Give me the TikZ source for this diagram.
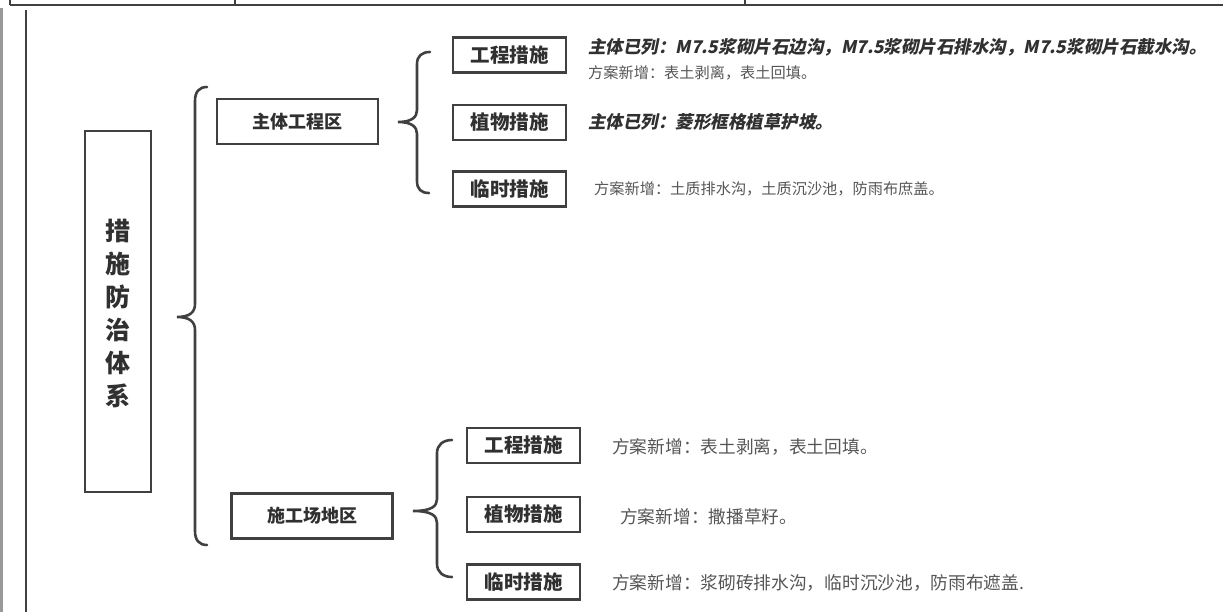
\documentclass[tikz,border=0pt]{standalone}
\usepackage{fontspec}
\newfontfamily\cjk{Noto Sans CJK SC}
\newfontfamily\cjkbi[FakeSlant=0.2]{Noto Sans CJK SC}
\definecolor{linec}{HTML}{404040}
\definecolor{boxtxt}{HTML}{303030}
\definecolor{normtxt}{HTML}{555555}
\begin{document}
\begin{tikzpicture}[x=1pt,y=-1pt,
  box/.style={draw=linec,line width=2.6pt,minimum width=113pt,minimum height=35pt,inner sep=0pt,
    font=\cjk\bfseries\fontsize{19.5}{19.5}\selectfont,text=boxtxt},
  areabox/.style={draw=linec,line width=2.6pt,minimum width=161pt,minimum height=45pt,inner sep=0pt,
    font=\cjk\bfseries\fontsize{18}{18}\selectfont,text=boxtxt},
  normal/.style={anchor=west,inner sep=0pt,font=\cjk\fontsize{15.2}{15.2}\selectfont,text=normtxt},
  normalL/.style={anchor=west,inner sep=0pt,font=\cjk\fontsize{17.7}{17.7}\selectfont,text=normtxt},
  bolditalic/.style={anchor=west,inner sep=0pt,font=\cjkbi\bfseries\fontsize{17.5}{17.5}\selectfont,text=boxtxt},
  bracec/.style={draw=linec,line width=2.6pt,line cap=round},
  borderc/.style={draw=linec,line width=2pt}]
\useasboundingbox (0,0) rectangle (1223,612);
% page border remnants
\draw[borderc] (10,5) -- (1223,5);
\draw[borderc] (10,0) -- (10,5);
\draw[borderc] (235,0) -- (235,5);
\draw[borderc] (745,0) -- (745,5);
\draw[draw=gray!80,line width=2.6pt] (1.5,8) -- (1.5,612);
\draw[linec,line width=2.4pt] (26,10) -- (26,612);
% main box
\node[draw=linec,line width=2.6pt,minimum width=66pt,minimum height=361pt,inner sep=0pt] (main) at (118,311.5) {};
\node[inner sep=0pt,align=center,font=\cjk\bfseries\fontsize{25}{33}\selectfont,text=boxtxt] (maintxt) at (118,314) {措\\施\\防\\治\\体\\系};
% big brace
\coordinate (bA) at (207,87);
\coordinate (bT) at (177,317);
\coordinate (bB) at (207,545);
\draw[bracec] (bA) .. controls (199,87) and (195,92) .. (195,101) -- (195,304) .. controls (195,312) and (190,317) .. (bT)
  .. controls (190,317) and (195,322) .. (195,330) -- (195,531) .. controls (195,540) and (199,545) .. (bB);
% area boxes
\node[areabox] (zt) at (297.5,121.5) {主体工程区};
\node[areabox] (sg) at (312,516) {施工场地区};
% upper brace
\coordinate (uA) at (430,52);
\coordinate (uT) at (398,122);
\coordinate (uB) at (429,193);
\draw[bracec] (uA) .. controls (422,52) and (417,56) .. (417,64) -- (417,110) .. controls (417,117) and (412,122) .. (uT)
  .. controls (412,122) and (417,127) .. (417,134) -- (417,181) .. controls (417,189) and (421,193) .. (uB);
% lower brace
\coordinate (lA) at (452,440);
\coordinate (lT) at (413,511);
\coordinate (lB) at (452,577);
\draw[bracec] (lA) .. controls (443,440) and (437,445) .. (437,453) -- (437,499) .. controls (437,506) and (432,511) .. (lT)
  .. controls (432,511) and (437,516) .. (437,523) -- (437,564) .. controls (437,572) and (443,577) .. (lB);
% upper sub boxes
\node[box] (u1) at (509.5,55) {工程措施};
\node[box] (u2) at (509.5,122.5) {植物措施};
\node[box] (u3) at (509.5,189) {临时措施};
% lower sub boxes
\node[box] (l1) at (523.5,445.5) {工程措施};
\node[box] (l2) at (523.5,514.5) {植物措施};
\node[box] (l3) at (523.5,582) {临时措施};
% texts
\node[bolditalic] (t1) at (588,47) {主体已列：M7.5浆砌片石边沟，M7.5浆砌片石排水沟，M7.5浆砌片石截水沟。};
\node[normal] (t2) at (588,73) {方案新增：表土剥离，表土回填。};
\node[bolditalic] (t3) at (588,122) {主体已列：菱形框格植草护坡。};
\node[normal] (t4) at (594,189) {方案新增：土质排水沟，土质沉沙池，防雨布庶盖。};
\node[normalL] (t5) at (612,447) {方案新增：表土剥离，表土回填。};
\node[normalL] (t6) at (620,517) {方案新增：撒播草籽。};
\node[normalL] (t7) at (612,583) {方案新增：浆砌砖排水沟，临时沉沙池，防雨布遮盖.};
\end{tikzpicture}
\end{document}
